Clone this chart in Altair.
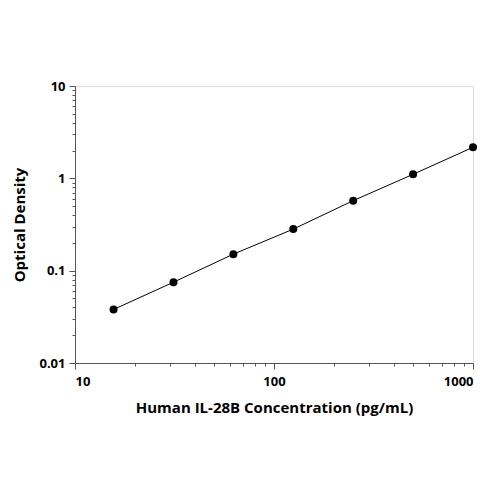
import altair as alt
import pandas as pd

concentration = [15.625, 31.25, 62.5, 125, 250, 500, 1000]
optical_density = [0.038, 0.075, 0.151, 0.282, 0.573, 1.106, 2.17]

x_ticks = [10, 20, 30, 40, 50, 60, 70, 80, 90, 100, 200, 300, 400, 500, 600, 700, 800, 900, 1000]
y_ticks = [0.01, 0.02, 0.03, 0.04, 0.05, 0.06, 0.07, 0.08, 0.09,
           0.1, 0.2, 0.3, 0.4, 0.5, 0.6, 0.7, 0.8, 0.9,
           1, 2, 3, 4, 5, 6, 7, 8, 9, 10]

df = pd.DataFrame({"conc": concentration, "od": optical_density})

is_decade = "abs(log(datum.value)/LN10 - round(log(datum.value)/LN10)) < 1e-6"
font = "Open Sans"

x_axis = alt.Axis(
    values=x_ticks, format="~g", grid=False,
    labelExpr=f"({is_decade}) ? datum.label : ''",
    tickSize={"condition": {"test": is_decade, "value": 6}, "value": 3},
    labelFont=font, labelFontWeight="bold", labelFontSize=13, labelColor="#000",
    labelPadding=6,
    title="Human IL-28B Concentration (pg/mL)",
    titleFont=font, titleFontWeight="bold", titleFontSize=15, titleColor="#000",
    titlePadding=12,
    domainColor="#555", tickColor="#555",
)
y_axis = alt.Axis(
    values=y_ticks, format="~g", grid=False,
    labelExpr=f"({is_decade}) ? datum.label : ''",
    tickSize={"condition": {"test": is_decade, "value": 6}, "value": 3},
    labelFont=font, labelFontWeight="bold", labelFontSize=13, labelColor="#000",
    labelPadding=4,
    title="Optical Density",
    titleFont=font, titleFontWeight="bold", titleFontSize=15, titleColor="#000",
    titlePadding=11,
    domainColor="#555", tickColor="#555",
)

x_enc = alt.X("conc:Q", scale=alt.Scale(type="log", domain=[10, 1000], nice=False), axis=x_axis)
y_enc = alt.Y("od:Q", scale=alt.Scale(type="log", domain=[0.01, 10], nice=False), axis=y_axis)

line = alt.Chart(df).mark_line(color="#000", strokeWidth=1).encode(x=x_enc, y=y_enc)
pts = alt.Chart(df).mark_circle(color="#000", size=64, opacity=1).encode(x=x_enc, y=y_enc)

chart = (line + pts).properties(
    width=398, height=277,
    autosize=alt.AutoSizeParams(type="none"),
    padding={"left": 67, "top": 78, "right": 19, "bottom": 129},
).configure_view(stroke=None).configure(background="white")

chart.save("out.html", embed_options={"renderer": "svg", "actions": False})
